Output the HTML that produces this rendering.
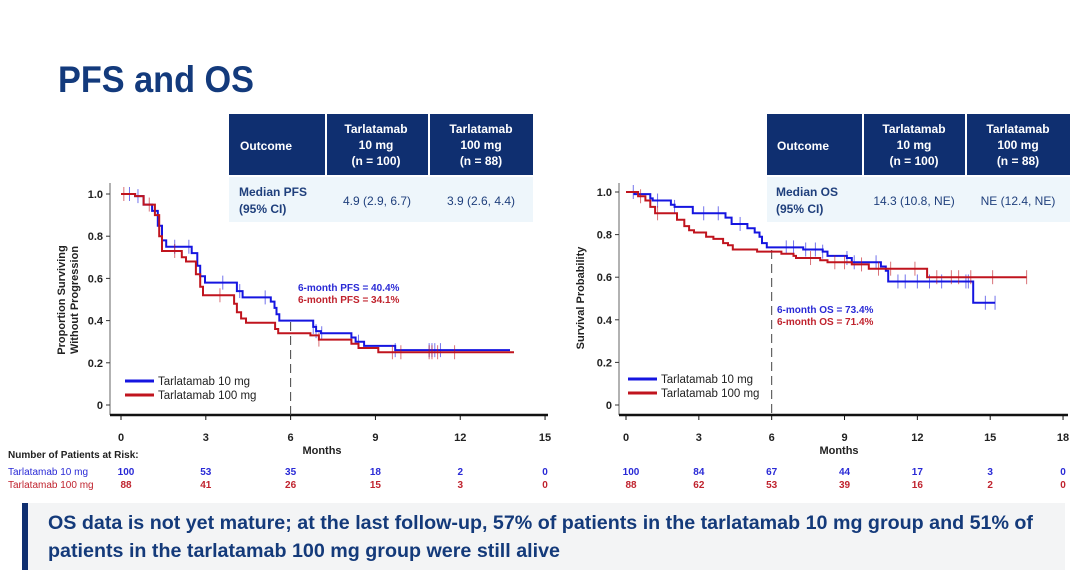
<!DOCTYPE html>
<html><head><meta charset="utf-8"><style>
html,body{margin:0;padding:0;background:#fff;}
svg{display:block;font-family:"Liberation Sans",Arial,sans-serif;}
</style></head><body>
<svg id="s" width="1080" height="573" viewBox="0 0 1080 573" xmlns="http://www.w3.org/2000/svg">
<rect width="1080" height="573" fill="#fff"/>
<text x="58" y="92" font-size="37" font-weight="bold" fill="#133a7c" textLength="196" lengthAdjust="spacingAndGlyphs">PFS and OS</text>

<rect x="229" y="114" width="96" height="61" fill="#0f2f70"/>
<rect x="327" y="114" width="101" height="61" fill="#0f2f70"/>
<rect x="430" y="114" width="103" height="61" fill="#0f2f70"/>
<rect x="229" y="177" width="304" height="45" fill="#eef6fb"/>
<g fill="#fff" font-size="12" font-weight="bold" text-anchor="middle">
<text x="266" y="150">Outcome</text>
<text x="376" y="133">Tarlatamab</text><text x="376" y="149">10 mg</text><text x="376" y="165">(n = 100)</text>
<text x="481" y="133">Tarlatamab</text><text x="481" y="149">100 mg</text><text x="481" y="165">(n = 88)</text>
</g>
<g fill="#1f3f7c" font-size="12">
<text x="239" y="196" font-weight="bold">Median PFS</text><text x="239" y="213" font-weight="bold">(95% CI)</text>
<text x="377" y="205" text-anchor="middle">4.9 (2.9, 6.7)</text>
<text x="481" y="205" text-anchor="middle">3.9 (2.6, 4.4)</text>
</g>

<rect x="767" y="114" width="95" height="61" fill="#0f2f70"/>
<rect x="864" y="114" width="101" height="61" fill="#0f2f70"/>
<rect x="967" y="114" width="103" height="61" fill="#0f2f70"/>
<rect x="767" y="177" width="303" height="45" fill="#eef6fb"/>
<g fill="#fff" font-size="12" font-weight="bold" text-anchor="middle">
<text x="803" y="150">Outcome</text>
<text x="914" y="133">Tarlatamab</text><text x="914" y="149">10 mg</text><text x="914" y="165">(n = 100)</text>
<text x="1018" y="133">Tarlatamab</text><text x="1018" y="149">100 mg</text><text x="1018" y="165">(n = 88)</text>
</g>
<g fill="#1f3f7c" font-size="12">
<text x="776" y="196" font-weight="bold">Median OS</text><text x="776" y="213" font-weight="bold">(95% CI)</text>
<text x="914" y="205" text-anchor="middle">14.3 (10.8, NE)</text>
<text x="1018" y="205" text-anchor="middle">NE (12.4, NE)</text>
</g>

<g id="plots"></g>

<rect x="22" y="503" width="1043" height="67" fill="#f3f4f5"/>
<rect x="22" y="503" width="6" height="67" fill="#0f2f70"/>
<g fill="#143a7a" font-size="19" font-weight="bold">
<text x="48" y="529" textLength="985" lengthAdjust="spacingAndGlyphs">OS data is not yet mature; at the last follow-up, 57% of patients in the tarlatamab 10 mg group and 51% of</text>
<text x="48" y="557" textLength="512" lengthAdjust="spacingAndGlyphs">patients in the tarlatamab 100 mg group were still alive</text>
</g>
</svg>
<script>
const G=document.getElementById('plots');
let html='';
function plot(o){
  const X=m=>o.x0+m*o.px, Y=v=>o.y0-v*o.py;
  html+=`<line x1="${o.ax}" y1="${o.ytop}" x2="${o.ax}" y2="${o.axy}" stroke="#999" stroke-width="1.5"/>`;
  html+=`<line x1="${o.ax}" y1="${o.axy}" x2="${o.xend}" y2="${o.axy}" stroke="#111" stroke-width="2.5"/>`;
  [0,0.2,0.4,0.6,0.8,1.0].forEach(v=>{
    html+=`<line x1="${o.ax-4}" y1="${Y(v)}" x2="${o.ax}" y2="${Y(v)}" stroke="#333"/>`;
    html+=`<text x="${o.ax-7}" y="${Y(v)+4}" font-size="11" font-weight="bold" text-anchor="end" fill="#222">${v==0?'0':v.toFixed(1)}</text>`;
  });
  o.xt.forEach(m=>{
    html+=`<line x1="${X(m)}" y1="${o.axy}" x2="${X(m)}" y2="${o.axy+5}" stroke="#111"/>`;
    html+=`<text x="${X(m)}" y="${o.axy+26}" font-size="11" font-weight="bold" text-anchor="middle" fill="#222">${m}</text>`;
  });
  html+=`<text x="${o.mx}" y="${o.axy+39}" font-size="11" font-weight="bold" text-anchor="middle" fill="#222">Months</text>`;
  html+=`<line x1="${X(6)}" y1="${o.dtop}" x2="${X(6)}" y2="${o.axy}" stroke="#444" stroke-dasharray="9,5"/>`;
  o.series.forEach(s=>{
    let d=`M${X(0)},${Y(s.p[0][1])}`;
    for(let i=1;i<s.p.length;i++){d+=`H${X(s.p[i][0]).toFixed(1)}V${Y(s.p[i][1]).toFixed(1)}`;}
    d+=`H${X(s.end).toFixed(1)}`;
    html+=`<path d="${d}" fill="none" stroke="${s.c}" stroke-width="2"/>`;
    s.cens.forEach(m=>{
      let v=s.p[0][1];for(const q of s.p){if(q[0]<=m)v=q[1];}
      html+=`<line x1="${X(m)}" y1="${Y(v)-7}" x2="${X(m)}" y2="${Y(v)+7}" stroke="${s.c}" stroke-opacity="0.6" stroke-width="1"/>`;
    });
  });
  html+=`<line x1="${o.lx}" y1="${o.ly}" x2="${o.lx+29}" y2="${o.ly}" stroke="#1515e0" stroke-width="3"/>`;
  html+=`<text x="${o.lx+33}" y="${o.ly+4}" font-size="11.5" fill="#222">Tarlatamab 10 mg</text>`;
  html+=`<line x1="${o.lx}" y1="${o.ly+14}" x2="${o.lx+29}" y2="${o.ly+14}" stroke="#c0141e" stroke-width="3"/>`;
  html+=`<text x="${o.lx+33}" y="${o.ly+18}" font-size="11.5" fill="#222">Tarlatamab 100 mg</text>`;
  html+=`<text x="${o.ax1}" y="${o.ay1}" font-size="10" font-weight="bold" fill="#2a2ad6">${o.a1}</text>`;
  html+=`<text x="${o.ax1}" y="${o.ay1+12}" font-size="10" font-weight="bold" fill="#c0232e">${o.a2}</text>`;
  o.xt.forEach((m,i)=>{
    html+=`<text x="${X(m)+(i==0?5:0)}" y="475" font-size="10" font-weight="bold" text-anchor="middle" fill="#2a2ad6">${o.r1[i]}</text>`;
    html+=`<text x="${X(m)+(i==0?5:0)}" y="488" font-size="10" font-weight="bold" text-anchor="middle" fill="#c0232e">${o.r2[i]}</text>`;
  });
  html+=`<text transform="translate(${o.ylx},${o.yly}) rotate(-90)" font-size="11" font-weight="bold" text-anchor="middle" fill="#222">${o.yl[0]}</text>`;
  if(o.yl[1]) html+=`<text transform="translate(${o.ylx+13},${o.yly}) rotate(-90)" font-size="11" font-weight="bold" text-anchor="middle" fill="#222">${o.yl[1]}</text>`;
}
plot({x0:121,px:28.27,y0:405,py:211,ax:110,ytop:183,axy:415,xend:548,xt:[0,3,6,9,12,15],mx:322,dtop:322,
 lx:125,ly:381,ax1:298,ay1:291,a1:'6-month PFS = 40.4%',a2:'6-month PFS = 34.1%',
 r1:[100,53,35,18,2,0],r2:[88,41,26,15,3,0],ylx:65,yly:300,yl:['Proportion Surviving','Without Progression'],
 series:[
 {c:'#1515e0',end:13.76,p:[[0,1],[0.5,0.99],[0.8,0.95],[1.1,0.92],[1.3,0.85],[1.45,0.78],[1.6,0.75],[2.5,0.72],[2.7,0.66],[2.8,0.61],[2.97,0.58],[4.1,0.54],[4.3,0.51],[5.3,0.49],[5.43,0.46],[5.5,0.43],[5.6,0.40],[6.8,0.37],[6.9,0.35],[7.07,0.34],[8.15,0.32],[8.3,0.30],[8.6,0.28],[9.7,0.26]],
  cens:[0.3,0.6,1.9,2.4,3.6,4.2,5.1,6.8,6.9,7.1,8.4,9.7,10.9,11.0,11.1,11.3]},
 {c:'#c0141e',end:13.9,p:[[0,1],[0.5,0.99],[0.8,0.95],[1.2,0.9],[1.35,0.8],[1.45,0.73],[2.15,0.70],[2.3,0.68],[2.65,0.62],[2.8,0.56],[2.9,0.52],[4.0,0.48],[4.1,0.44],[4.25,0.41],[4.42,0.39],[5.45,0.36],[5.56,0.34],[6.7,0.33],[7.0,0.31],[8.15,0.29],[8.4,0.27],[9.1,0.25]],
  cens:[0.1,1.0,1.9,3.5,7.0,9.6,9.9,10.9,11.0,11.2,11.8]}
 ]});
plot({x0:626,px:24.28,y0:405,py:213,ax:619,ytop:183,axy:415,xend:1068,xt:[0,3,6,9,12,15,18],mx:839,dtop:250,
 lx:628,ly:379,ax1:777,ay1:313,a1:'6-month OS = 73.4%',a2:'6-month OS = 71.4%',
 r1:[100,84,67,44,17,3,0],r2:[88,62,53,39,16,2,0],ylx:584,yly:298,yl:['Survival Probability'],
 series:[
 {c:'#1515e0',end:15.2,p:[[0,1],[0.35,0.99],[1.0,0.97],[1.1,0.96],[1.85,0.94],[2.0,0.93],[2.75,0.9],[4.1,0.88],[4.35,0.85],[5.0,0.83],[5.3,0.81],[5.5,0.79],[5.6,0.76],[5.8,0.74],[7.3,0.73],[8.1,0.72],[8.3,0.70],[9.1,0.69],[9.3,0.67],[10.5,0.65],[10.7,0.63],[10.8,0.58],[14.3,0.48]],
  cens:[0.3,1.3,2.0,3.2,3.8,4.7,6.6,6.9,7.4,7.8,8.1,9.1,9.4,10.3,11.2,11.5,12.0,12.5,13.0,14.0,14.1,14.8,15.2]},
 {c:'#c0141e',end:16.5,p:[[0,1],[0.5,0.98],[0.8,0.96],[1.0,0.93],[1.2,0.9],[2.1,0.87],[2.4,0.84],[2.6,0.82],[2.8,0.81],[3.3,0.79],[3.6,0.78],[4.0,0.76],[4.2,0.75],[4.4,0.73],[5.4,0.72],[6.4,0.71],[6.9,0.70],[7.0,0.69],[8.0,0.68],[8.3,0.67],[9.3,0.66],[10.0,0.64],[12.4,0.60]],
  cens:[0.6,1.3,7.6,8.6,9.0,9.7,10.4,10.9,11.9,12.8,13.4,13.7,14.2,15.1,16.5]}
 ]});
html+=`<text x="8" y="458" font-size="10" font-weight="bold" fill="#222">Number of Patients at Risk:</text>`;
html+=`<text x="8" y="475" font-size="10" fill="#2a2ad6">Tarlatamab 10 mg</text>`;
html+=`<text x="8" y="488" font-size="10" fill="#c0232e">Tarlatamab 100 mg</text>`;
G.innerHTML=html;
</script>
</body></html>
